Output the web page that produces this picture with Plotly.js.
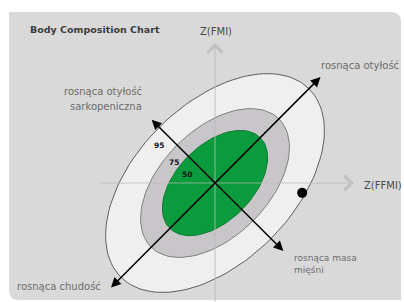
<!DOCTYPE html>
<html>
<head>
<meta charset="utf-8">
<script src="https://cdn.plot.ly/plotly-3.0.1.min.js"></script>
<style>
  html, body { margin: 0; padding: 0; background: #ffffff; }
  #chart { width: 404px; height: 302px; }
</style>
</head>
<body>
<div id="chart"></div>
<script>
// ---- data ----
const confidenceLevels = [95, 75, 50];          // percentile ellipses
const chi2Quantiles = [5.991, 2.773, 1.386];    // chi-square (2 df) for those levels
const correlation = 0.48;                       // Z(FFMI) vs Z(FMI)
const subjectX = [1.95];                        // Z(FFMI) of the subject
const subjectY = [-0.22];                       // Z(FMI) of the subject
const levelLabelX = [-1.25, -0.92, -0.63];
const levelLabelY = [0.83, 0.47, 0.20];
const trendLabels = ['rosnąca otyłość', 'rosnąca otyłość', 'sarkopeniczna', 'rosnąca chudość', 'rosnąca masa', 'mięśni'];
const axisLabels = ['Z(FFMI)', 'Z(FMI)'];

// ---- styles ----
const fills = ['#efefef', '#c9c6ca', '#0b9b3c'];
const edges = ['#5e5e5e', '#7e7e7e', '#0c7a2e'];

function ellipse(c, rho) {
  const a = Math.sqrt(c * (1 + rho)), b = Math.sqrt(c * (1 - rho));
  const xs = [], ys = [], n = 120, s = Math.SQRT1_2;
  for (let i = 0; i <= n; i++) {
    const t = 2 * Math.PI * i / n;
    const u = a * Math.cos(t), v = b * Math.sin(t);
    xs.push(s * (u - v));
    ys.push(s * (u + v));
  }
  return {xs, ys};
}

const traces = confidenceLevels.map((lvl, i) => {
  const e = ellipse(chi2Quantiles[i], correlation);
  return {
    type: 'scatter', mode: 'lines', x: e.xs, y: e.ys,
    fill: 'toself', fillcolor: fills[i],
    line: {color: edges[i], width: 1}, hoverinfo: 'skip', name: lvl + '%'
  };
});
traces.push({
  type: 'scatter', mode: 'markers', x: subjectX, y: subjectY,
  marker: {color: '#000000', size: 10}, hoverinfo: 'skip'
});

const labelFont = {family: 'DejaVu Sans', size: 10, color: '#6c6c6c'};
const axisColor = 'rgba(185,185,185,0.7)';

const annotations = [
  // axes (arrows)
  {x: 3.11, y: 0, ax: -2.62, ay: 0, xref: 'x', yref: 'y', axref: 'x', ayref: 'y', text: '',
   showarrow: true, arrowhead: 4, arrowsize: 2.4, arrowwidth: 1.2, arrowcolor: axisColor},
  {x: 0, y: 3.13, ax: 0, ay: -2.7, xref: 'x', yref: 'y', axref: 'x', ayref: 'y', text: '',
   showarrow: true, arrowhead: 4, arrowsize: 2.4, arrowwidth: 1.2, arrowcolor: axisColor},
  // trend arrows
  {x: 2.36, y: 2.37, ax: -2.36, ay: -2.37, xref: 'x', yref: 'y', axref: 'x', ayref: 'y', text: '',
   showarrow: true, arrowside: 'end+start', arrowhead: 2, arrowsize: 1.3, arrowwidth: 1.5, arrowcolor: '#000000'},
  {x: 1.53, y: -1.52, ax: -1.45, ay: 1.45, xref: 'x', yref: 'y', axref: 'x', ayref: 'y', text: '',
   showarrow: true, arrowside: 'end+start', arrowhead: 2, arrowsize: 1.3, arrowwidth: 1.5, arrowcolor: '#000000'},
  // trend labels
  {x: 3.24, y: 2.62, xref: 'x', yref: 'y', text: trendLabels[0], showarrow: false, font: labelFont, xanchor: 'center'},
  {x: -1.588, y: 2.058, xref: 'x', yref: 'y', text: trendLabels[1], showarrow: false, font: labelFont, xanchor: 'right'},
  {x: -1.588, y: 1.723, xref: 'x', yref: 'y', text: trendLabels[2], showarrow: false, font: labelFont, xanchor: 'right'},
  {x: -4.474, y: -2.304, xref: 'x', yref: 'y', text: trendLabels[3], showarrow: false, font: labelFont, xanchor: 'left'},
  {x: 1.72, y: -1.68, xref: 'x', yref: 'y', text: trendLabels[4], showarrow: false, font: Object.assign({}, labelFont, {size: 9}), xanchor: 'left'},
  {x: 1.72, y: -1.946, xref: 'x', yref: 'y', text: trendLabels[5], showarrow: false, font: Object.assign({}, labelFont, {size: 9}), xanchor: 'left'},
  // axis labels
  {x: 3.29, y: -0.045, xref: 'x', yref: 'y', text: axisLabels[0], showarrow: false,
   font: {family: 'DejaVu Sans', size: 10, color: '#4a4a4a'}, xanchor: 'left'},
  {x: 0.02, y: 3.40, xref: 'x', yref: 'y', text: axisLabels[1], showarrow: false,
   font: {family: 'DejaVu Sans', size: 10, color: '#4a4a4a'}, xanchor: 'center'}
];
confidenceLevels.forEach((lvl, i) => {
  annotations.push({x: levelLabelX[i], y: levelLabelY[i], xref: 'x', yref: 'y', text: '<b>' + lvl + '</b>',
    showarrow: false, font: {family: 'DejaVu Sans', size: 7.5, color: '#111111'}});
});

const rx = 10 / 392, ry = 10 / 288;
const layout = {
  width: 404, height: 302,
  margin: {l: 9, r: 3, t: 12, b: 2, pad: 0},
  paper_bgcolor: '#ffffff',
  plot_bgcolor: 'rgba(0,0,0,0)',
  showlegend: false,
  title: {text: '<b>Body Composition Chart</b>', x: 30 / 404, xanchor: 'left', xref: 'container',
          y: 1 - 30 / 302, yanchor: 'middle', yref: 'container',
          font: {family: 'DejaVu Sans', size: 9.5, color: '#3c3c3c'}},
  xaxis: {range: [-4.609, 4.161], visible: false, fixedrange: true},
  yaxis: {range: [-2.617, 3.826], visible: false, fixedrange: true},
  shapes: [{
    type: 'path', xref: 'paper', yref: 'paper', layer: 'below',
    path: `M 0 1 L ${1 - rx} 1 Q 1 1 1 ${1 - ry} L 1 0 L ${rx} 0 Q 0 0 0 ${ry} Z`,
    fillcolor: '#d9d9d9', line: {width: 0}
  }],
  annotations: annotations
};

Plotly.newPlot('chart', traces, layout, {staticPlot: true, displayModeBar: false});
</script>
</body>
</html>
